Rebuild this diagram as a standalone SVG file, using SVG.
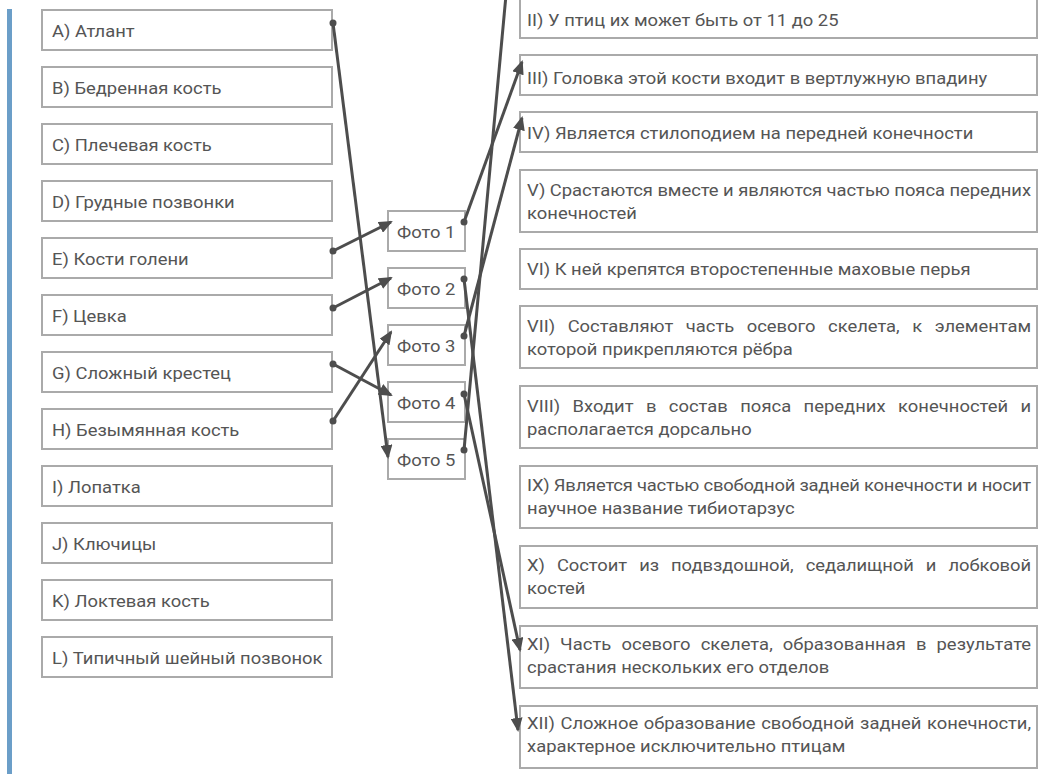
<svg xmlns="http://www.w3.org/2000/svg" width="1054" height="774" viewBox="0 0 1054 774">
<style>
.bx{fill:#fff;stroke:#aaaaaa;stroke-width:2}
.t{font-family:Roboto,"Liberation Sans",sans-serif;font-size:16px;fill:#555555}
.cn{stroke:#4d4d4d;stroke-width:3;fill:none}
.dot{fill:#4d4d4d}
</style>
<defs>
<marker id="ah" markerWidth="14" markerHeight="12" refX="12" refY="6" orient="auto" markerUnits="userSpaceOnUse"><path d="M0,0 L14,6 L0,12 z" fill="#4d4d4d"/></marker>
</defs>
<rect x="7" y="9" width="5" height="765" fill="#6b9ec8"/>
<g id="left">
<g id="nA"><rect class="bx" x="42" y="10" width="290" height="40"/><text class="t" transform="scale(1.15,1)" x="45.2" y="37.5">A) Атлант</text></g>
<g id="nB"><rect class="bx" x="42" y="67" width="290" height="40"/><text class="t" transform="scale(1.15,1)" x="45.2" y="94.5">B) Бедренная кость</text></g>
<g id="nC"><rect class="bx" x="42" y="124" width="290" height="40"/><text class="t" transform="scale(1.15,1)" x="45.2" y="151.5">C) Плечевая кость</text></g>
<g id="nD"><rect class="bx" x="42" y="181" width="290" height="40"/><text class="t" transform="scale(1.15,1)" x="45.2" y="208.5">D) Грудные позвонки</text></g>
<g id="nE"><rect class="bx" x="42" y="238" width="290" height="40"/><text class="t" transform="scale(1.15,1)" x="45.2" y="265.5">E) Кости голени</text></g>
<g id="nF"><rect class="bx" x="42" y="295" width="290" height="40"/><text class="t" transform="scale(1.15,1)" x="45.2" y="322.5">F) Цевка</text></g>
<g id="nG"><rect class="bx" x="42" y="352" width="290" height="40"/><text class="t" transform="scale(1.15,1)" x="45.2" y="379.5">G) Сложный крестец</text></g>
<g id="nH"><rect class="bx" x="42" y="409" width="290" height="40"/><text class="t" transform="scale(1.15,1)" x="45.2" y="436.5">H) Безымянная кость</text></g>
<g id="nI"><rect class="bx" x="42" y="466" width="290" height="40"/><text class="t" transform="scale(1.15,1)" x="45.2" y="493.5">I) Лопатка</text></g>
<g id="nJ"><rect class="bx" x="42" y="523" width="290" height="40"/><text class="t" transform="scale(1.15,1)" x="45.2" y="550.5">J) Ключицы</text></g>
<g id="nK"><rect class="bx" x="42" y="580" width="290" height="40"/><text class="t" transform="scale(1.15,1)" x="45.2" y="607.5">K) Локтевая кость</text></g>
<g id="nL"><rect class="bx" x="42" y="637" width="290" height="40"/><text class="t" transform="scale(1.15,1)" x="45.2" y="664.5">L) Типичный шейный позвонок</text></g>
</g>
<g id="photos">
<g id="p1"><rect class="bx" x="388" y="211" width="77" height="40"/><text class="t" transform="scale(1.15,1)" x="345.2" y="238">Фото 1</text></g>
<g id="p2"><rect class="bx" x="388" y="268" width="77" height="40"/><text class="t" transform="scale(1.15,1)" x="345.2" y="295">Фото 2</text></g>
<g id="p3"><rect class="bx" x="388" y="325" width="77" height="40"/><text class="t" transform="scale(1.15,1)" x="345.2" y="352">Фото 3</text></g>
<g id="p4"><rect class="bx" x="388" y="382" width="77" height="40"/><text class="t" transform="scale(1.15,1)" x="345.2" y="409">Фото 4</text></g>
<g id="p5"><rect class="bx" x="388" y="439" width="77" height="40"/><text class="t" transform="scale(1.15,1)" x="345.2" y="466">Фото 5</text></g>
</g>
<g id="right">
<g id="r2"><rect class="bx" x="520" y="-2" width="517" height="40"/><text class="t" transform="scale(1.15,1)" x="458.3" y="26">II) У птиц их может быть от 11 до 25</text></g>
<g id="r3"><rect class="bx" x="520" y="55" width="517" height="40"/><text class="t" transform="scale(1.15,1)" x="458.3" y="84">III) Головка этой кости входит в вертлужную впадину</text></g>
<g id="r4"><rect class="bx" x="520" y="112" width="517" height="40"/><text class="t" transform="scale(1.15,1)" x="458.3" y="139">IV) Является стилоподием на передней конечности</text></g>
<g id="r5"><rect class="bx" x="520" y="170" width="517" height="62"/><text class="t" transform="scale(1.15,1)" x="458.3" y="196" textLength="438.3" lengthAdjust="spacing"><tspan>V)</tspan> <tspan>Срастаются</tspan> <tspan>вместе</tspan> <tspan>и</tspan> <tspan>являются</tspan> <tspan>частью</tspan> <tspan>пояса</tspan> <tspan>передних</tspan></text><text class="t" transform="scale(1.15,1)" x="458.3" y="219">конечностей</text></g>
<g id="r6"><rect class="bx" x="520" y="249" width="517" height="40"/><text class="t" transform="scale(1.15,1)" x="458.3" y="275">VI) К ней крепятся второстепенные маховые перья</text></g>
<g id="r7"><rect class="bx" x="520" y="306" width="517" height="62"/><text class="t" transform="scale(1.15,1)" x="458.3" y="332" word-spacing="7" textLength="438.3" lengthAdjust="spacing"><tspan>VII)</tspan> <tspan>Составляют</tspan> <tspan>часть</tspan> <tspan>осевого</tspan> <tspan>скелета,</tspan> <tspan>к</tspan> <tspan>элементам</tspan></text><text class="t" transform="scale(1.15,1)" x="458.3" y="355">которой прикрепляются рёбра</text></g>
<g id="r8"><rect class="bx" x="520" y="386" width="517" height="62"/><text class="t" transform="scale(1.15,1)" x="458.3" y="412" word-spacing="6.7" textLength="438.3" lengthAdjust="spacing"><tspan>VIII)</tspan> <tspan>Входит</tspan> <tspan>в</tspan> <tspan>состав</tspan> <tspan>пояса</tspan> <tspan>передних</tspan> <tspan>конечностей</tspan> <tspan>и</tspan></text><text class="t" transform="scale(1.15,1)" x="458.3" y="435">располагается дорсально</text></g>
<g id="r9"><rect class="bx" x="520" y="466" width="517" height="62"/><text class="t" transform="scale(1.15,1)" x="458.3" y="491" textLength="438.3" lengthAdjust="spacing"><tspan>IX)</tspan> <tspan>Является</tspan> <tspan>частью</tspan> <tspan>свободной</tspan> <tspan>задней</tspan> <tspan>конечности</tspan> <tspan>и</tspan> <tspan>носит</tspan></text><text class="t" transform="scale(1.15,1)" x="458.3" y="514">научное название тибиотарзус</text></g>
<g id="r10"><rect class="bx" x="520" y="546" width="517" height="62"/><text class="t" transform="scale(1.15,1)" x="458.3" y="571" word-spacing="6.6" textLength="438.3" lengthAdjust="spacing"><tspan>X)</tspan> <tspan>Состоит</tspan> <tspan>из</tspan> <tspan>подвздошной,</tspan> <tspan>седалищной</tspan> <tspan>и</tspan> <tspan>лобковой</tspan></text><text class="t" transform="scale(1.15,1)" x="458.3" y="594">костей</text></g>
<g id="r11"><rect class="bx" x="520" y="626" width="517" height="62"/><text class="t" transform="scale(1.15,1)" x="458.3" y="650" word-spacing="4.7" textLength="438.3" lengthAdjust="spacing"><tspan>XI)</tspan> <tspan>Часть</tspan> <tspan>осевого</tspan> <tspan>скелета,</tspan> <tspan>образованная</tspan> <tspan>в</tspan> <tspan>результате</tspan></text><text class="t" transform="scale(1.15,1)" x="458.3" y="673">срастания нескольких его отделов</text></g>
<g id="r12"><rect class="bx" x="520" y="706" width="517" height="62"/><text class="t" transform="scale(1.15,1)" x="458.3" y="729" word-spacing="1" textLength="438.3" lengthAdjust="spacing"><tspan>XII)</tspan> <tspan>Сложное</tspan> <tspan>образование</tspan> <tspan>свободной</tspan> <tspan>задней</tspan> <tspan>конечности,</tspan></text><text class="t" transform="scale(1.15,1)" x="458.3" y="752">характерное исключительно птицам</text></g>
</g>
<g id="connectors">
<line class="cn" x1="333" y1="23" x2="388" y2="457" marker-end="url(#ah)"/>
<line class="cn" x1="333" y1="251" x2="391" y2="222" marker-end="url(#ah)"/>
<line class="cn" x1="333" y1="308" x2="391" y2="278" marker-end="url(#ah)"/>
<line class="cn" x1="333" y1="364" x2="391" y2="395" marker-end="url(#ah)"/>
<line class="cn" x1="333" y1="421" x2="391" y2="332" marker-end="url(#ah)"/>
<line class="cn" x1="464" y1="222" x2="522" y2="62" marker-end="url(#ah)"/>
<line class="cn" x1="464" y1="279" x2="518" y2="730" marker-end="url(#ah)"/>
<line class="cn" x1="464" y1="336" x2="522" y2="118" marker-end="url(#ah)"/>
<line class="cn" x1="464" y1="394" x2="520" y2="650" marker-end="url(#ah)"/>
<line class="cn" x1="464" y1="450" x2="506" y2="-5"/>
<circle class="dot" cx="333" cy="23" r="3.5"/>
<circle class="dot" cx="333" cy="251" r="3.5"/>
<circle class="dot" cx="333" cy="308" r="3.5"/>
<circle class="dot" cx="333" cy="364" r="3.5"/>
<circle class="dot" cx="333" cy="421" r="3.5"/>
<circle class="dot" cx="464" cy="222" r="3.5"/>
<circle class="dot" cx="464" cy="279" r="3.5"/>
<circle class="dot" cx="464" cy="336" r="3.5"/>
<circle class="dot" cx="464" cy="394" r="3.5"/>
<circle class="dot" cx="464" cy="450" r="3.5"/>
</g>
</svg>
